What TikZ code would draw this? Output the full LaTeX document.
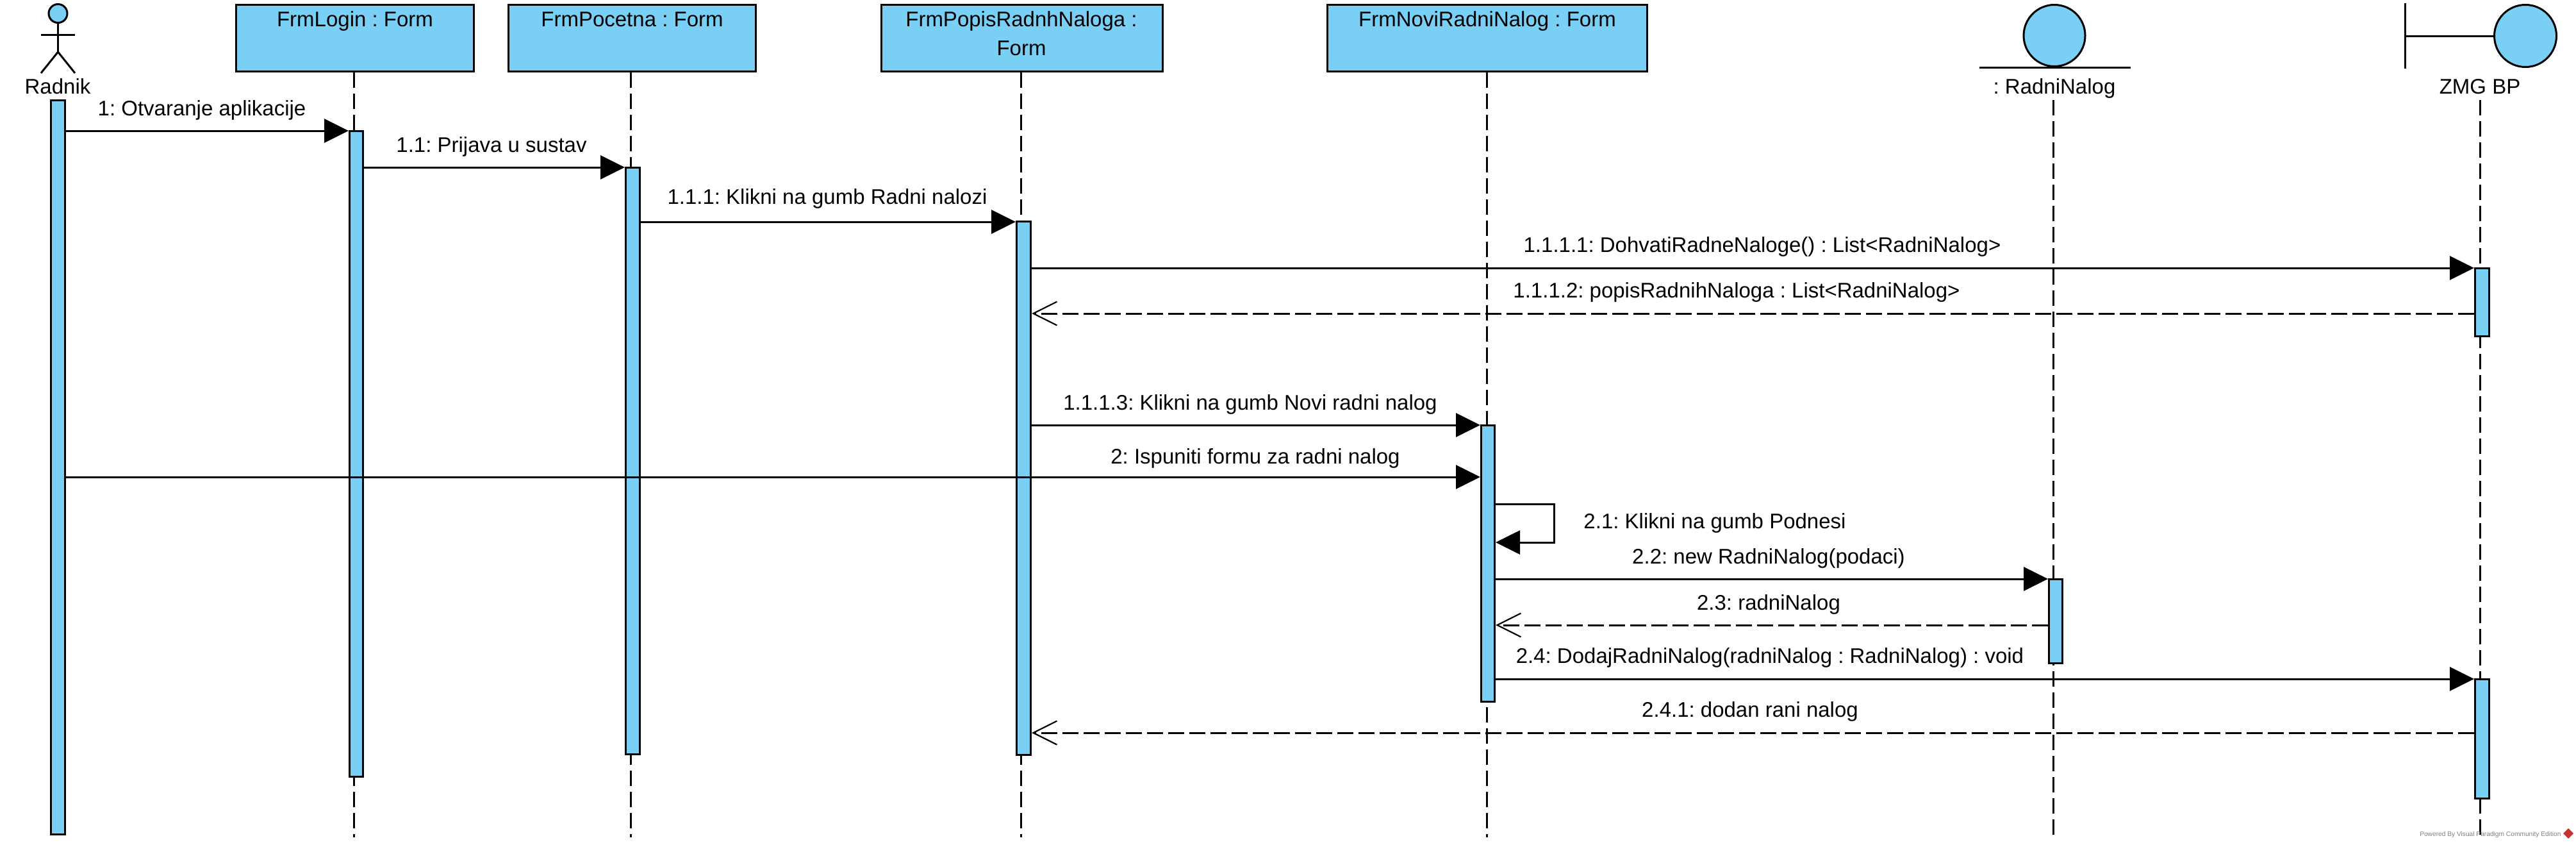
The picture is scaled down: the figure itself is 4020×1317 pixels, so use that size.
\documentclass[tikz,border=0pt]{standalone}
\usepackage{fontspec}
\setmainfont{Liberation Sans}
\usetikzlibrary{arrows.meta}
\definecolor{umlblue}{RGB}{122,207,245}
\definecolor{vplogo}{RGB}{200,50,50}
\tikzset{
  every node/.style={inner sep=0pt, font=\frenchspacing\fontsize{33}{44.5}\selectfont},
  fbox/.style={draw, fill=umlblue, line width=3pt, outer sep=1.5pt, anchor=north west, align=center, text height=34pt, text depth=70pt},
  fboxtwo/.style={draw, fill=umlblue, line width=3pt, outer sep=1.5pt, anchor=north west},
  actbox/.style={draw, fill=umlblue, line width=3pt, outer sep=1.5pt},
  txt/.style={anchor=base},
  life/.style={line width=3pt, dash pattern=on 24pt off 9pt},
  sync/.style={line width=3pt, -{Triangle[length=38pt,width=37pt]}},
  ret/.style={line width=3pt, dash pattern=on 25pt off 8pt, -{Straight Barb[length=37pt,width=37pt,line width=2.2pt]}},
  glyph/.style={line width=3pt},
  glyphfill/.style={draw, fill=umlblue, circle, line width=3pt, outer sep=1.5pt},
}
\newcommand{\actbar}[5]{\node[actbox, minimum width={#3-#2-3}, minimum height={#5-#4-3}] (#1) at ({(#2+#3)/2},{(#4+#5)/2}) {};}
\begin{document}
\begin{tikzpicture}[x=1pt,y=-1pt]
\useasboundingbox (0,0) rectangle (4020,1317);

% lifeline boxes
\node[fbox, minimum width=371pt, minimum height=104pt] (login) at (367,6) {FrmLogin : Form};
\node[fbox, minimum width=386pt, minimum height=104pt] (pocetna) at (792,6) {FrmPocetna : Form};
\node[fboxtwo, minimum width=439pt, minimum height=104pt] (popis) at (1374,6) {};
\node[txt] (popist1) at (1594,41.5) {FrmPopisRadnhNaloga :};
\node[txt] (popist2) at (1594,86) {Form};
\node[fbox, minimum width=499pt, minimum height=104pt] (novi) at (2070,6) {FrmNoviRadniNalog : Form};

% actor
\node[glyphfill, minimum size=29pt] (head) at (90.5,21) {};
\coordinate (hip) at (90.5,81);
\coordinate (armL) at (64,54);
\coordinate (armR) at (117,54);
\coordinate (legL) at (64,114);
\coordinate (legR) at (117,114);
\draw[glyph] (head.south) -- (hip);
\draw[glyph] (armL) -- (armR);
\draw[glyph] (legL) -- (hip) -- (legR);
\node[txt] (radnik) at (90,146) {Radnik};

% entity
\node[glyphfill, minimum size=96pt] (entity) at (3206,55.5) {};
\coordinate (entL) at (3089,105);
\coordinate (entR) at (3325,105);
\draw[glyph] (entL) -- (entR);
\node[txt] (entlabel) at (3206,146) {: RadniNalog};

% boundary
\node[glyphfill, minimum size=97pt] (bnd) at (3941,56) {};
\coordinate (barT) at (3753,5);
\coordinate (barB) at (3753,107);
\draw[glyph] (barT) -- (barB);
\draw[glyph] (barT |- bnd.west) -- (bnd.west);
\node[txt] (bndlabel) at (3870,146) {ZMG BP};

% lifeline stems
\coordinate (entTop) at (3204,156);
\coordinate (bndTop) at (3870,156);
\coordinate (endA) at (552,1306);
\coordinate (endB) at (984,1306);
\coordinate (endC) at (1593,1306);
\coordinate (endD) at (2320,1306);
\coordinate (endE) at (3204,1306);
\coordinate (endF) at (3870,1306);
\draw[life] (endA |- login.south) -- (endA);
\draw[life] (endB |- pocetna.south) -- (endB);
\draw[life] (endC |- popis.south) -- (endC);
\draw[life] (endD |- novi.south) -- (endD);
\draw[life] (entTop) -- (endE);
\draw[life] (bndTop) -- (endF);

% activations
\actbar{a1}{78}{103}{155}{1303}
\actbar{a2}{544}{568}{202.5}{1213}
\actbar{a3}{975}{1000}{260}{1178}
\actbar{a4}{1585}{1610}{344}{1179}
\actbar{a5}{2310}{2334}{662}{1096}
\actbar{a6}{3196}{3220}{902}{1036}
\actbar{a7}{3861}{3886}{417}{526}
\actbar{a8}{3861}{3886}{1058}{1247}

% message rows
\coordinate (m1) at (0,204);
\coordinate (m2) at (0,261);
\coordinate (m3) at (0,346);
\coordinate (m4) at (0,418);
\coordinate (m5) at (0,489);
\coordinate (m6) at (0,663);
\coordinate (m7) at (0,744);
\coordinate (s1) at (2425,786);
\coordinate (s2) at (2425,846);
\coordinate (m9) at (0,903);
\coordinate (m10) at (0,975);
\coordinate (m11) at (0,1059);
\coordinate (m12) at (0,1143);

\draw[sync] (a1.east |- m1) -- (a2.west |- m1);
\draw[sync] (a2.east |- m2) -- (a3.west |- m2);
\draw[sync] (a3.east |- m3) -- (a4.west |- m3);
\draw[sync] (a4.east |- m4) -- (a7.west |- m4);
\draw[ret] (a7.west |- m5) -- (a4.east |- m5);
\draw[sync] (a4.east |- m6) -- (a5.west |- m6);
\draw[sync] (a1.east |- m7) -- (a5.west |- m7);
\draw[sync] (a5.east |- s1) -- (s1) -- (s2) -- (a5.east |- s2);
\draw[sync] (a5.east |- m9) -- (a6.west |- m9);
\draw[ret] (a6.west |- m10) -- (a5.east |- m10);
\draw[sync] (a5.east |- m11) -- (a8.west |- m11);
\draw[ret] (a8.west |- m12) -- (a4.east |- m12);

% message labels
\node[txt] (l1) at (315,180) {1: Otvaranje aplikacije};
\node[txt] (l2) at (767,237) {1.1: Prijava u sustav};
\node[txt] (l3) at (1291,318) {1.1.1: Klikni na gumb Radni nalozi};
\node[txt] (l4) at (2750,393) {1.1.1.1: DohvatiRadneNaloge() : List<RadniNalog>};
\node[txt] (l5) at (2710,464) {1.1.1.2: popisRadnihNaloga : List<RadniNalog>};
\node[txt] (l6) at (1951,639) {1.1.1.3: Klikni na gumb Novi radni nalog};
\node[txt] (l7) at (1959,723) {2: Ispuniti formu za radni nalog};
\node[txt] (l8) at (2676,824) {2.1: Klikni na gumb Podnesi};
\node[txt] (l9) at (2760,879) {2.2: new RadniNalog(podaci)};
\node[txt] (l10) at (2760,951) {2.3: radniNalog};
\node[txt] (l11) at (2762,1034) {2.4: DodajRadniNalog(radniNalog : RadniNalog) : void};
\node[txt] (l12) at (2731,1118) {2.4.1: dodan rani nalog};

% watermark
\node[anchor=base west, font=\frenchspacing\fontsize{10.2}{12}\selectfont, text=black!50] (wm) at (3776,1304) {Powered By Visual Paradigm Community Edition};
\fill[vplogo] (4008,1292) -- (4016,1300) -- (4008,1308) -- (4000,1300) -- cycle;
\end{tikzpicture}
\end{document}
